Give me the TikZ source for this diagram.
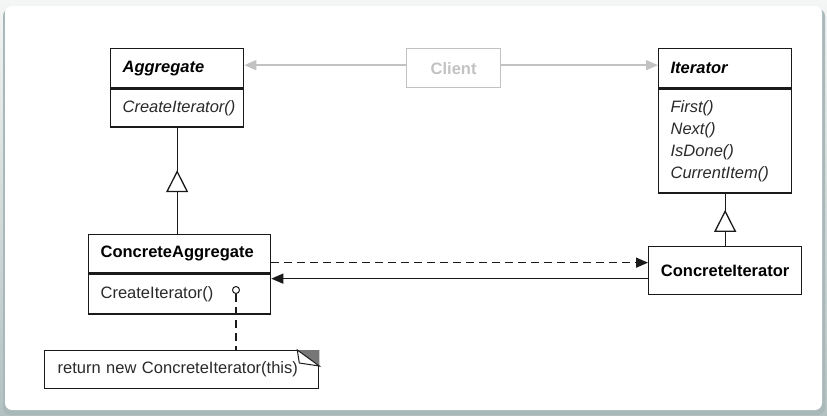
\documentclass[tikz,border=0pt]{standalone}
\usepackage{fontspec}
\setmainfont{Liberation Sans}
\usetikzlibrary{arrows.meta,positioning,calc,decorations.markings}
\definecolor{ink}{HTML}{1A1A1A}
\definecolor{txt}{HTML}{2A2A2A}
\definecolor{faded}{HTML}{C2C2C2}
\definecolor{backtop}{HTML}{F4F5F5}
\definecolor{backbot}{HTML}{B3C1C1}
\definecolor{shadowc}{HTML}{A9B8B8}
\definecolor{earfill}{HTML}{777777}
\newcommand{\umlfont}{\fontsize{16.5}{22}\selectfont}

\begin{document}
\begin{tikzpicture}[x=1pt, y=-1pt,
      cls/.style={draw=ink, line width=1.3pt, fill=white, anchor=north west,
                  inner xsep=12pt, inner ysep=0pt, align=left, text=black,
                  font=\umlfont\bfseries},
      ops/.style={cls, text=txt, font=\umlfont\itshape},
      opsup/.style={cls, text=txt, font=\umlfont},
      nav/.style={draw=faded, line width=1.5pt, -{Triangle[length=12pt, width=10pt]}},
      gen/.style={draw=ink, line width=1.3pt, postaction={decorate},
                  decoration={markings, mark=at position #1 with
                  {\arrow{Triangle[length=22pt, width=22pt, fill=white]}}}},
      dep/.style={draw=ink, line width=1.3pt, dash pattern=on 8pt off 5pt,
                  -{Triangle[length=12pt, width=10pt]}},
      assoc/.style={draw=ink, line width=1.3pt, -{Triangle[length=12pt, width=10pt]}}
    ]
      \useasboundingbox (0,0) rectangle (827,415);
      % card
      \shade[top color=backtop, bottom color=backbot] (0,0) rectangle (827,415);
      \fill[shadowc, rounded corners=7pt] (3,9) rectangle (825,415);
      \fill[white, rounded corners=7pt] (5,6) rectangle (822,410);

      \node[cls, text width=109pt, minimum height=39pt] (agg) at (110,48) {\itshape Aggregate};
      \node[ops, text width=109pt, minimum height=38pt] (aggops) at (agg.south west) {CreateIterator()};

      \node[cls, draw=faded, text=faded, text width=70pt, align=center, minimum height=39pt]
        (client) at (406,48) {Client};

      \node[cls, text width=109pt, minimum height=39pt] (itr) at (658,48) {\itshape Iterator};
      \node[ops, text width=109pt, minimum height=104pt] (itrops) at (itr.south west)
        {First()\\Next()\\IsDone()\\CurrentItem()};

      \node[cls, text width=158pt, minimum height=38pt] (cagg) at (88,234) {ConcreteAggregate};
      \node[opsup, text width=158pt, minimum height=40pt] (caggops) at (cagg.south west) {CreateIterator()};

      \node[cls, inner xsep=10pt, text width=133pt, align=center, minimum height=48pt]
        (citr) at (648,246) {ConcreteIterator};

      \node[opsup, inner xsep=13pt, text width=248pt, minimum height=38pt] (note) at (44,350)
        {return new ConcreteIterator(this)};
      \node[circle, draw=ink, line width=1pt, fill=white, inner sep=0pt, minimum size=7pt]
        (pin) at (236,290) {};

      \draw[nav] ([yshift=3pt]client.west) -- ([yshift=3pt]agg.east);
      \draw[nav] ([yshift=3pt]client.east) -- ([yshift=3pt]client.east -| itr.west);

      \draw[gen=0.6] (cagg.north -| aggops.south) -- (aggops.south);
      \draw[gen=0.69] (citr.north -| itrops.south) -- (itrops.south);

      \draw[dep] ([yshift=-9pt]cagg.east) -- ([yshift=-9pt]cagg.east -| citr.west);
      \draw[assoc] ([yshift=-8pt]citr.west) -- ([yshift=-8pt]citr.west -| cagg.east);

      % note and its dog ear
      \draw[ink, line width=1.3pt, dash pattern=on 8pt off 5pt] (pin.south) -- (pin.south |- note.north);
      \fill[earfill] (note.north east) -- ++(-22,0) -- ++(22,16) -- cycle;
      \draw[ink, line width=1pt, fill=white] ($(note.north east)+(-22,0)$) -- ++(2,13) -- ++(20,3) -- cycle;
    \end{tikzpicture}
\end{document}
